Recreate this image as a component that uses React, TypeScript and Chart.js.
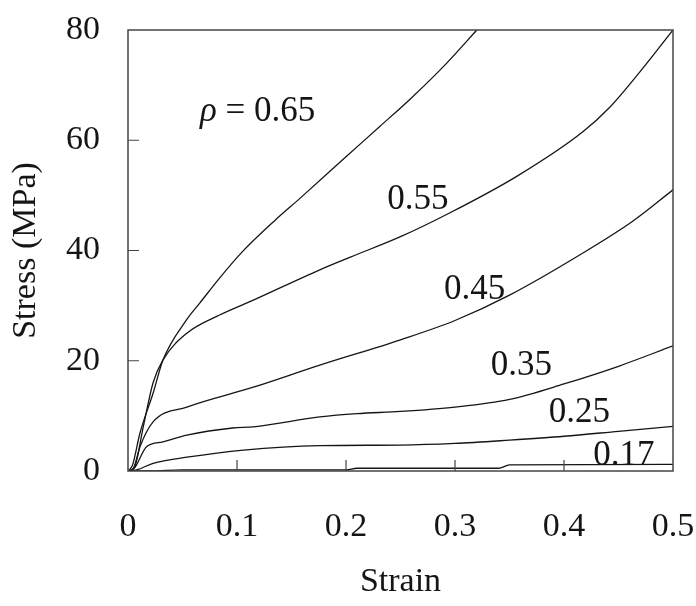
import React, { useEffect, useRef } from "react";
import { Chart, registerables } from "chart.js";

Chart.register(...registerables);

const FONT = '"Liberation Serif", "Times New Roman", serif';
const INK = "#151515";

// ---- data (strain, stress in MPa) ----
const strain065 = [0, 0.004, 0.011, 0.023, 0.032, 0.054, 0.066, 0.084, 0.105, 0.135, 0.158, 0.2, 0.231, 0.259, 0.29, 0.32, 0.335];
const stress065 = [0, 1, 6.9, 14.1, 20.1, 27.5, 30.5, 35, 39.8, 45.5, 49.5, 57, 62.5, 67.5, 73.5, 80, 83.3];

const strain055 = [0, 0.006, 0.014, 0.023, 0.032, 0.054, 0.084, 0.115, 0.176, 0.204, 0.25, 0.295, 0.357, 0.417, 0.442, 0.47, 0.5];
const stress055 = [0, 0.7, 8, 16, 20.1, 25, 28.3, 31, 36.5, 38.8, 42.5, 46.8, 53.5, 61.5, 66, 72.5, 80];

const strain045 = [0, 0.005, 0.011, 0.023, 0.054, 0.115, 0.176, 0.25, 0.3, 0.35, 0.417, 0.463, 0.5];
const stress045 = [0, 0.5, 4.4, 8.9, 11.6, 15.2, 19.2, 23.8, 27.3, 31.9, 39.5, 45.3, 51];

const strain035 = [0, 0.005, 0.017, 0.032, 0.054, 0.096, 0.115, 0.176, 0.21, 0.25, 0.3, 0.35, 0.4, 0.45, 0.5];
const stress035 = [0, 0.3, 4.4, 5.3, 6.5, 7.8, 8.0, 9.8, 10.4, 10.8, 11.6, 13.0, 15.8, 19.0, 22.7];

const strain025 = [0, 0.008, 0.023, 0.054, 0.106, 0.176, 0.25, 0.3, 0.35, 0.4, 0.45, 0.5];
const stress025 = [0, 0.2, 1.4, 2.5, 3.8, 4.6, 4.7, 5.0, 5.6, 6.3, 7.2, 8.1];

const strain017 = [0, 0.02, 0.05, 0.2, 0.21, 0.34, 0.35, 0.5];
const stress017 = [0, 0, 0.2, 0.2, 0.5, 0.5, 1.1, 1.2];

const xTicks = [0, 0.1, 0.2, 0.3, 0.4, 0.5];
const yTicks = [0, 20, 40, 60, 80];

const densities = ["0.65", "0.55", "0.45", "0.35", "0.25", "0.17"];
// label anchor points (strain, stress) for each curve's density label
const labelStrain = [0.066, 0.266, 0.318, 0.361, 0.414, 0.455];
const labelStress = [65.1, 49.2, 32.8, 19.0, 10.5, 2.7];

const series = [
  [strain065, stress065],
  [strain055, stress055],
  [strain045, stress045],
  [strain035, stress035],
  [strain025, stress025],
  [strain017, stress017],
];

const framePlugin = {
  id: "frameAndLabels",
  afterDraw(chart: any) {
    const { ctx, chartArea: a, scales } = chart;
    const xs = scales.x;
    const ys = scales.y;
    ctx.save();
    ctx.strokeStyle = "#444";
    ctx.lineWidth = 1.5;
    ctx.strokeRect(a.left, a.top, a.right - a.left, a.bottom - a.top);
    const TL = 11;
    ctx.lineWidth = 1.2;
    ctx.beginPath();
    xTicks.forEach((v) => {
      const px = xs.getPixelForValue(v);
      if (v > 0 && v < 0.5) {
        ctx.moveTo(px, a.bottom);
        ctx.lineTo(px, a.bottom - TL);
      }
    });
    yTicks.forEach((v) => {
      const py = ys.getPixelForValue(v);
      if (v > 0 && v < 80) {
        ctx.moveTo(a.left, py);
        ctx.lineTo(a.left + TL, py);
      }
    });
    ctx.stroke();
    ctx.fillStyle = INK;
    ctx.textBaseline = "middle";
    densities.forEach((d, i) => {
      const px = xs.getPixelForValue(labelStrain[i]);
      const py = ys.getPixelForValue(labelStress[i]);
      if (i === 0) {
        ctx.textAlign = "left";
        ctx.font = `italic 35px ${FONT}`;
        ctx.fillText("ρ", px, py);
        const w = ctx.measureText("ρ").width;
        ctx.font = `35px ${FONT}`;
        ctx.fillText(" = " + d, px + w, py);
      } else {
        ctx.textAlign = "center";
        ctx.font = `35px ${FONT}`;
        ctx.fillText(d, px, py);
      }
    });
    ctx.restore();
  },
};

export default function App() {
  const ref = useRef<HTMLCanvasElement | null>(null);
  useEffect(() => {
    if (!ref.current) return;
    const chart = new Chart(ref.current, {
      type: "line",
      data: {
        datasets: series.map(([xs, ys], i) => ({
          label: densities[i],
          data: xs.map((x, j) => ({ x, y: ys[j] })),
          borderColor: INK,
          borderWidth: 1.3,
          pointRadius: 0,
          fill: false,
          cubicInterpolationMode: "monotone" as const,
        })),
      },
      options: {
        animation: false,
        responsive: false,
        maintainAspectRatio: false,
        layout: { padding: { top: 30, right: 23, left: 0, bottom: 0 } },
        plugins: { legend: { display: false }, tooltip: { enabled: false } },
        scales: {
          x: {
            type: "linear",
            min: 0,
            max: 0.5,
            afterBuildTicks: (s: any) => {
              s.ticks = xTicks.map((v) => ({ value: v }));
            },
            afterFit: (s: any) => {
              s.height = 135;
              s.paddingLeft = 0;
              s.paddingRight = 0;
            },
            grid: { display: false, drawTicks: false },
            border: { display: false },
            ticks: {
              color: INK,
              font: { family: FONT, size: 34 },
              padding: 36,
              maxRotation: 0,
              autoSkip: false,
              callback: (v: any) => String(Math.round(Number(v) * 10) / 10),
            },
            title: {
              display: true,
              text: "Strain",
              color: INK,
              font: { family: FONT, size: 34 },
              padding: { top: 0, bottom: 4 },
            },
          },
          y: {
            type: "linear",
            min: 0,
            max: 80,
            afterBuildTicks: (s: any) => {
              s.ticks = yTicks.map((v) => ({ value: v }));
            },
            afterFit: (s: any) => {
              s.width = 128;
              s.paddingTop = 0;
              s.paddingBottom = 0;
            },
            grid: { display: false, drawTicks: false },
            border: { display: false },
            ticks: {
              color: INK,
              font: { family: FONT, size: 34 },
              padding: 28,
              autoSkip: false,
              callback: (v: any) => String(v),
            },
            title: {
              display: true,
              text: "Stress (MPa)",
              color: INK,
              font: { family: FONT, size: 34 },
              padding: { top: 6, bottom: 0 },
            },
          },
        },
      },
      plugins: [framePlugin],
    });
    return () => chart.destroy();
  }, []);
  return (
    <div style={{ position: "fixed", left: 0, top: 0, width: 696, height: 606, background: "#fff" }}>
      <canvas ref={ref} width={696} height={606} style={{ width: 696, height: 606, display: "block" }} />
    </div>
  );
}
